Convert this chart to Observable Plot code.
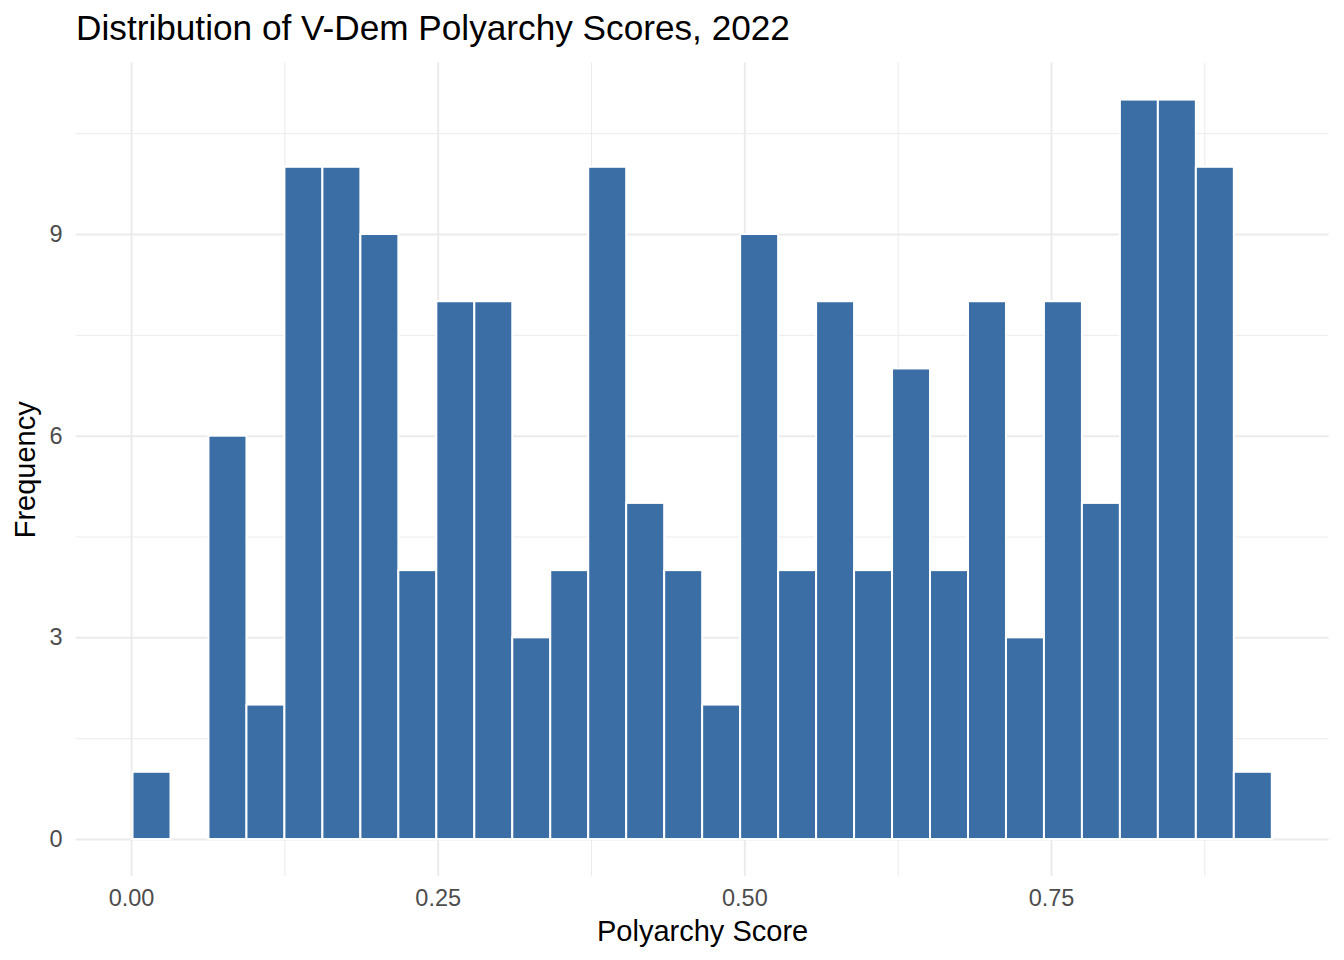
<!DOCTYPE html>
<html><head><meta charset="utf-8">
<script src="https://cdn.jsdelivr.net/npm/d3@7"></script>
<script src="https://cdn.jsdelivr.net/npm/@observablehq/plot@0.6"></script>
<style>body{margin:0;background:#fff}</style>
</head><body><div id="chart"></div>
<script>
const binStart = 0.0012;
const binWidth = 0.03096;
const counts = [1,0,6,2,10,10,9,4,8,8,3,4,10,5,4,2,9,4,8,4,7,4,8,3,8,5,11,11,10,1];
const xTicks = [0, 0.25, 0.5, 0.75];
const xTickLabels = ["0.00", "0.25", "0.50", "0.75"];
const xMinor = [0.125, 0.375, 0.625, 0.875];
const yTicks = [0, 3, 6, 9];
const yTickLabels = ["0", "3", "6", "9"];
const yMinor = [1.5, 4.5, 7.5, 10.5];
const titleText = "Distribution of V-Dem Polyarchy Scores, 2022";
const xLabel = "Polyarchy Score";
const yLabel = "Frequency";

const bins = counts.map((c, i) => ({x1: binStart + i * binWidth, x2: binStart + (i + 1) * binWidth, count: c}));

const chart = Plot.plot({
  width: 1344,
  height: 960,
  marginLeft: 75.6,
  marginRight: 15.4,
  marginTop: 62.6,
  marginBottom: 84,
  style: {fontFamily: "'Liberation Sans', Arial, sans-serif", color: "#4d4d4d", background: "#fff"},
  x: {domain: [-0.0452, 0.9763]},
  y: {domain: [-0.55, 11.55]},
  marks: [
    Plot.ruleX(xMinor, {stroke: "#ebebeb", strokeWidth: 1}),
    Plot.ruleY(yMinor, {stroke: "#ebebeb", strokeWidth: 1}),
    Plot.ruleX(xTicks, {stroke: "#ebebeb", strokeWidth: 2}),
    Plot.ruleY(yTicks, {stroke: "#ebebeb", strokeWidth: 2}),
    Plot.rectY(bins, {x1: "x1", x2: "x2", y: "count", fill: "#3a6ea5", stroke: "white", strokeWidth: 2}),
    Plot.axisX(xTicks, {tickSize: 0, tickPadding: 13, fontSize: 23.5, tickFormat: (d, i) => xTickLabels[i], label: null}),
    Plot.axisY(yTicks, {tickSize: 0, tickPadding: 13.5, fontSize: 23.5, tickFormat: (d, i) => yTickLabels[i], label: null}),
    Plot.text([xLabel], {text: d => d, frameAnchor: "bottom", dy: 55, lineAnchor: "middle", fontSize: 29, fill: "black"}),
    Plot.text([yLabel], {text: d => d, frameAnchor: "left", dx: -50, rotate: -90, textAnchor: "middle", lineAnchor: "middle", fontSize: 29, fill: "black"}),
    Plot.text([titleText], {text: d => d, frameAnchor: "top-left", dx: 0, dy: -34.6, textAnchor: "start", lineAnchor: "middle", fontSize: 35.2, fill: "black"})
  ]
});
document.getElementById("chart").appendChild(chart);
</script>
</body></html>
